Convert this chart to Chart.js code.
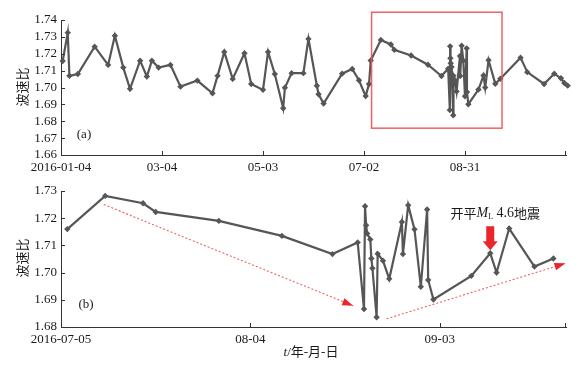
<!DOCTYPE html>
<html>
<head>
<meta charset="utf-8">
<script src="https://cdn.jsdelivr.net/npm/chart.js@4.4.1/dist/chart.umd.min.js"></script>
<style>
    html, body { margin: 0; padding: 0; background: #fff; }
    #wrap { position: relative; width: 584px; height: 367px; }
    #wrap canvas { position: absolute; left: 0; top: 0; }
</style>
</head>
<body>
<div id="wrap">
    <canvas id="panel_a" width="584" height="367"></canvas>
    <canvas id="panel_b" width="584" height="367"></canvas>
</div>
<script>
(function () {
    "use strict";

    // panel (a) only: before the boxed window
    const earlyDates = ['2016-01-05', '2016-01-08', '2016-01-09', '2016-01-14', '2016-01-24', '2016-02-01', '2016-02-05',
        '2016-02-10', '2016-02-14', '2016-02-20', '2016-02-24', '2016-02-27', '2016-03-02', '2016-03-09', '2016-03-15',
        '2016-03-25', '2016-04-03', '2016-04-06', '2016-04-10', '2016-04-15', '2016-04-22', '2016-04-26', '2016-05-03',
        '2016-05-06', '2016-05-10', '2016-05-15', '2016-05-16', '2016-05-20', '2016-05-27', '2016-05-30', '2016-06-04',
        '2016-06-05', '2016-06-08', '2016-06-19', '2016-06-25', '2016-06-29', '2016-07-03', '2016-07-05'];
    const earlyValues = [1.7157, 1.7325, 1.7069, 1.7080, 1.7242, 1.7134, 1.7307,
        1.7118, 1.6992, 1.7159, 1.7065, 1.7159, 1.7118, 1.7134, 1.7005,
        1.7041, 1.6966, 1.7069, 1.7211, 1.7051, 1.7203, 1.7021, 1.6986,
        1.7211, 1.7080, 1.6877, 1.6999, 1.7085, 1.7085, 1.7288, 1.7010,
        1.6960, 1.6905, 1.7082, 1.7110, 1.7043, 1.6949, 1.7021];

    // boxed window, shown enlarged in panel (b)
    const windowDates = ['2016-07-06', '2016-07-12', '2016-07-18', '2016-07-20', '2016-07-30', '2016-08-09', '2016-08-17',
        '2016-08-21', '2016-08-22T00', '2016-08-22T04', '2016-08-22T08', '2016-08-22T12',
        '2016-08-23T00', '2016-08-23T04', '2016-08-23T08', '2016-08-24T00', '2016-08-24T04',
        '2016-08-25', '2016-08-26', '2016-08-28T00', '2016-08-28T04', '2016-08-29', '2016-08-30', '2016-08-31',
        '2016-09-01T00', '2016-09-01T04', '2016-09-02', '2016-09-08', '2016-09-11', '2016-09-12', '2016-09-14',
        '2016-09-18', '2016-09-21'];
    const windowValues = [1.7160, 1.7282, 1.7255, 1.7223, 1.7190, 1.7135, 1.7068,
        1.7111, 1.6866, 1.7244, 1.7174, 1.7144,
        1.7122, 1.7052, 1.7016, 1.6836, 1.7069,
        1.7044, 1.6977, 1.7186, 1.7068, 1.7248, 1.7159, 1.6948,
        1.7232, 1.6973, 1.6901, 1.6988, 1.7071, 1.7000, 1.7162,
        1.7022, 1.7052];

    // panel (a) only: after the boxed window
    const lateDates = ['2016-10-03', '2016-10-07', '2016-10-17', '2016-10-23', '2016-10-27', '2016-10-29', '2016-10-31', '2016-11-02'];
    const lateValues = [1.7177, 1.7091, 1.7021, 1.7082, 1.7055, 1.7027, 1.7011, 1.6997];

    const topTickDates = ['2016-01-04', '2016-03-04', '2016-05-03', '2016-07-02', '2016-08-31'];
    const topTickLabels = ['2016-01-04', '03-04', '05-03', '07-02', '08-31'];
    const topYTicks = [1.66, 1.67, 1.68, 1.69, 1.70, 1.71, 1.72, 1.73, 1.74];
    const bottomTickDates = ['2016-07-05', '2016-08-04', '2016-09-03'];
    const bottomTickLabels = ['2016-07-05', '08-04', '09-03'];
    const bottomYTicks = [1.68, 1.69, 1.70, 1.71, 1.72, 1.73];

    const boxDates = ['2016-07-06T12', '2016-09-22'];
    const boxValues = [1.6759, 1.7446];

    const fallDates = ['2016-07-11T19', '2016-08-20T07'];
    const fallValues = [1.7250, 1.6878];
    const riseDates = ['2016-08-25T14', '2016-09-22T22'];
    const riseValues = [1.6830, 1.7034];

    const quakeDate = '2016-09-11';

    const SERIF = "'Liberation Serif', 'Times New Roman', 'Noto Sans CJK SC', serif";
    const CJK = "'Noto Sans CJK SC', sans-serif";
    const LINE = '#565656';
    const RED = '#e8262b';

    Chart.defaults.font.family = SERIF;
    Chart.defaults.font.size = 13;
    Chart.defaults.color = '#1a1a1a';

    // days since 2016-01-04, accepts 'YYYY-MM-DD' or 'YYYY-MM-DDTHH'
    function dayNum(s) {
        var p = s.split('T');
        var d = p[0].split('-').map(Number);
        var h = p[1] ? Number(p[1]) : 0;
        return (Date.UTC(d[0], d[1] - 1, d[2], h) - Date.UTC(2016, 0, 4)) / 86400000;
    }

    function points(dates, values) {
        return dates.map(function (d, i) { return { x: dayNum(d), y: values[i] }; });
    }

    function seriesDataset(data) {
        return {
            data: data,
            borderColor: LINE,
            borderWidth: 2.2,
            backgroundColor: LINE,
            pointStyle: 'rectRot',
            pointRadius: 3.2,
            pointBorderWidth: 0,
            pointBackgroundColor: LINE,
            tension: 0,
            clip: false,
            order: 0
        };
    }

    function trendDataset(data) {
        return {
            data: data,
            borderColor: 'rgba(236, 70, 70, 0.85)',
            borderWidth: 1.1,
            borderDash: [2, 2],
            pointRadius: 0,
            tension: 0,
            clip: false,
            trend: true,
            order: 1
        };
    }

    function scalesFor(xMin, xMax, tickDates, tickLabels, yTicks) {
        return {
            x: {
                type: 'linear',
                min: dayNum(xMin),
                max: dayNum(xMax),
                afterBuildTicks: function (scale) {
                    scale.ticks = tickDates.map(function (d) { return { value: dayNum(d) }; });
                },
                afterFit: function (scale) { scale.height = 24; },
                ticks: {
                    maxRotation: 0,
                    autoSkip: false,
                    padding: 5,
                    callback: function (v, i) { return tickLabels[i]; }
                },
                grid: { display: false, drawTicks: false },
                border: { display: true, color: '#333', width: 1 }
            },
            y: {
                min: yTicks[0],
                max: yTicks[yTicks.length - 1],
                afterBuildTicks: function (scale) {
                    scale.ticks = yTicks.map(function (v) { return { value: v }; });
                },
                afterFit: function (scale) { scale.width = 61; },
                ticks: {
                    autoSkip: false,
                    padding: 4,
                    callback: function (v) { return Number(v).toFixed(2); }
                },
                grid: { display: false, drawTicks: false },
                border: { display: true, color: '#333', width: 1 }
            }
        };
    }

    // tick marks pointing into the plot
    const inwardTicks = {
        id: 'inwardTicks',
        afterDraw: function (chart) {
            var ctx = chart.ctx, a = chart.chartArea, xs = chart.scales.x, ys = chart.scales.y;
            ctx.save();
            ctx.strokeStyle = '#333';
            ctx.lineWidth = 1;
            ctx.beginPath();
            ys.ticks.forEach(function (t) {
                var py = Math.round(ys.getPixelForValue(t.value)) + 0.5;
                ctx.moveTo(a.left, py);
                ctx.lineTo(a.left + 4, py);
            });
            xs.ticks.forEach(function (t) {
                var px = Math.round(xs.getPixelForValue(t.value)) + 0.5;
                ctx.moveTo(px, a.bottom);
                ctx.lineTo(px, a.bottom - 4);
            });
            ctx.moveTo(a.right - 0.5, a.bottom);
            ctx.lineTo(a.right - 0.5, a.bottom - 4);
            ctx.stroke();
            ctx.restore();
        }
    };

    function drawYTitle(ctx, cx, cy) {
        ctx.save();
        ctx.translate(cx, cy);
        ctx.rotate(-Math.PI / 2);
        ctx.font = '13px ' + CJK;
        ctx.fillStyle = '#1a1a1a';
        ctx.textAlign = 'center';
        ctx.textBaseline = 'middle';
        ctx.fillText('波速比', 0, 0);
        ctx.restore();
    }

    function drawParts(ctx, parts, cx, cy) {
        var total = 0;
        parts.forEach(function (p) { ctx.font = p.font; p.w = ctx.measureText(p.text).width; total += p.w; });
        var x = cx - total / 2;
        ctx.textAlign = 'left';
        ctx.textBaseline = 'middle';
        parts.forEach(function (p) {
            ctx.font = p.font;
            ctx.fillText(p.text, x, cy + (p.dy || 0));
            x += p.w;
        });
    }

    const panelA = {
        id: 'panelA',
        afterDraw: function (chart) {
            var ctx = chart.ctx, xs = chart.scales.x, ys = chart.scales.y;
            drawYTitle(ctx, 22, 87);
            ctx.save();
            ctx.fillStyle = '#1a1a1a';
            ctx.font = '13px ' + SERIF;
            ctx.textAlign = 'center';
            ctx.textBaseline = 'middle';
            ctx.fillText('(a)', 84, 135);
            var x0 = xs.getPixelForValue(dayNum(boxDates[0])), x1 = xs.getPixelForValue(dayNum(boxDates[1]));
            var y0 = ys.getPixelForValue(boxValues[1]), y1 = ys.getPixelForValue(boxValues[0]);
            ctx.strokeStyle = 'rgba(238, 80, 80, 0.9)';
            ctx.lineWidth = 1.5;
            ctx.strokeRect(x0, y0, x1 - x0, y1 - y0);
            ctx.restore();
        }
    };

    const panelB = {
        id: 'panelB',
        afterDraw: function (chart) {
            var ctx = chart.ctx, xs = chart.scales.x, ys = chart.scales.y;
            drawYTitle(ctx, 22, 258);
            ctx.save();
            ctx.fillStyle = '#1a1a1a';
            ctx.font = '13px ' + SERIF;
            ctx.textAlign = 'center';
            ctx.textBaseline = 'middle';
            ctx.fillText('(b)', 86, 305);

            drawParts(ctx, [
                { text: 't', font: 'italic 13px ' + SERIF },
                { text: '/年-月-日', font: '13px ' + SERIF }
            ], 311, 353);

            // trend arrowheads
            chart.data.datasets.forEach(function (ds, i) {
                if (!ds.trend) return;
                var pts = chart.getDatasetMeta(i).data;
                var a = pts[pts.length - 2], b = pts[pts.length - 1];
                var ang = Math.atan2(b.y - a.y, b.x - a.x);
                ctx.save();
                ctx.translate(b.x, b.y);
                ctx.rotate(ang);
                ctx.fillStyle = RED;
                ctx.beginPath();
                ctx.moveTo(0, 0);
                ctx.lineTo(-11, -3.8);
                ctx.lineTo(-11, 3.8);
                ctx.closePath();
                ctx.fill();
                ctx.restore();
            });

            // earthquake marker
            var qx = xs.getPixelForValue(dayNum(quakeDate));
            var qy = ys.getPixelForValue(windowValues[windowDates.indexOf(quakeDate)]);
            ctx.fillStyle = RED;
            ctx.beginPath();
            ctx.moveTo(qx - 4, qy - 27);
            ctx.lineTo(qx + 4, qy - 27);
            ctx.lineTo(qx + 4, qy - 12);
            ctx.lineTo(qx + 7.5, qy - 12);
            ctx.lineTo(qx, qy - 3);
            ctx.lineTo(qx - 7.5, qy - 12);
            ctx.lineTo(qx - 4, qy - 12);
            ctx.closePath();
            ctx.fill();

            ctx.fillStyle = '#1a1a1a';
            drawParts(ctx, [
                { text: '开平', font: '13px ' + CJK },
                { text: 'M', font: 'italic 14px ' + SERIF },
                { text: 'L', font: '8px ' + SERIF, dy: 4 },
                { text: ' 4.6', font: '14px ' + SERIF },
                { text: '地震', font: '13px ' + CJK }
            ], qx + 5, qy - 40);
            ctx.restore();
        }
    };

    const baseOptions = function (padding, scales) {
        return {
            responsive: false,
            animation: false,
            devicePixelRatio: 1,
            layout: { padding: padding },
            plugins: { legend: { display: false }, tooltip: { enabled: false } },
            scales: scales
        };
    };

    new Chart(document.getElementById('panel_a'), {
        type: 'line',
        data: {
            datasets: [seriesDataset(points(earlyDates.concat(windowDates, lateDates), earlyValues.concat(windowValues, lateValues)))]
        },
        options: baseOptions({ top: 20, right: 18, bottom: 188, left: 0 },
            scalesFor('2016-01-04', '2016-10-30', topTickDates, topTickLabels, topYTicks)),
        plugins: [inwardTicks, panelA]
    });

    new Chart(document.getElementById('panel_b'), {
        type: 'line',
        data: {
            datasets: [
                seriesDataset(points(windowDates, windowValues)),
                trendDataset(points(fallDates, fallValues)),
                trendDataset(points(riseDates, riseValues))
            ]
        },
        options: baseOptions({ top: 191, right: 18, bottom: 16, left: 0 },
            scalesFor('2016-07-05', '2016-09-23', bottomTickDates, bottomTickLabels, bottomYTicks)),
        plugins: [inwardTicks, panelB]
    });
})();
</script>
</body>
</html>
